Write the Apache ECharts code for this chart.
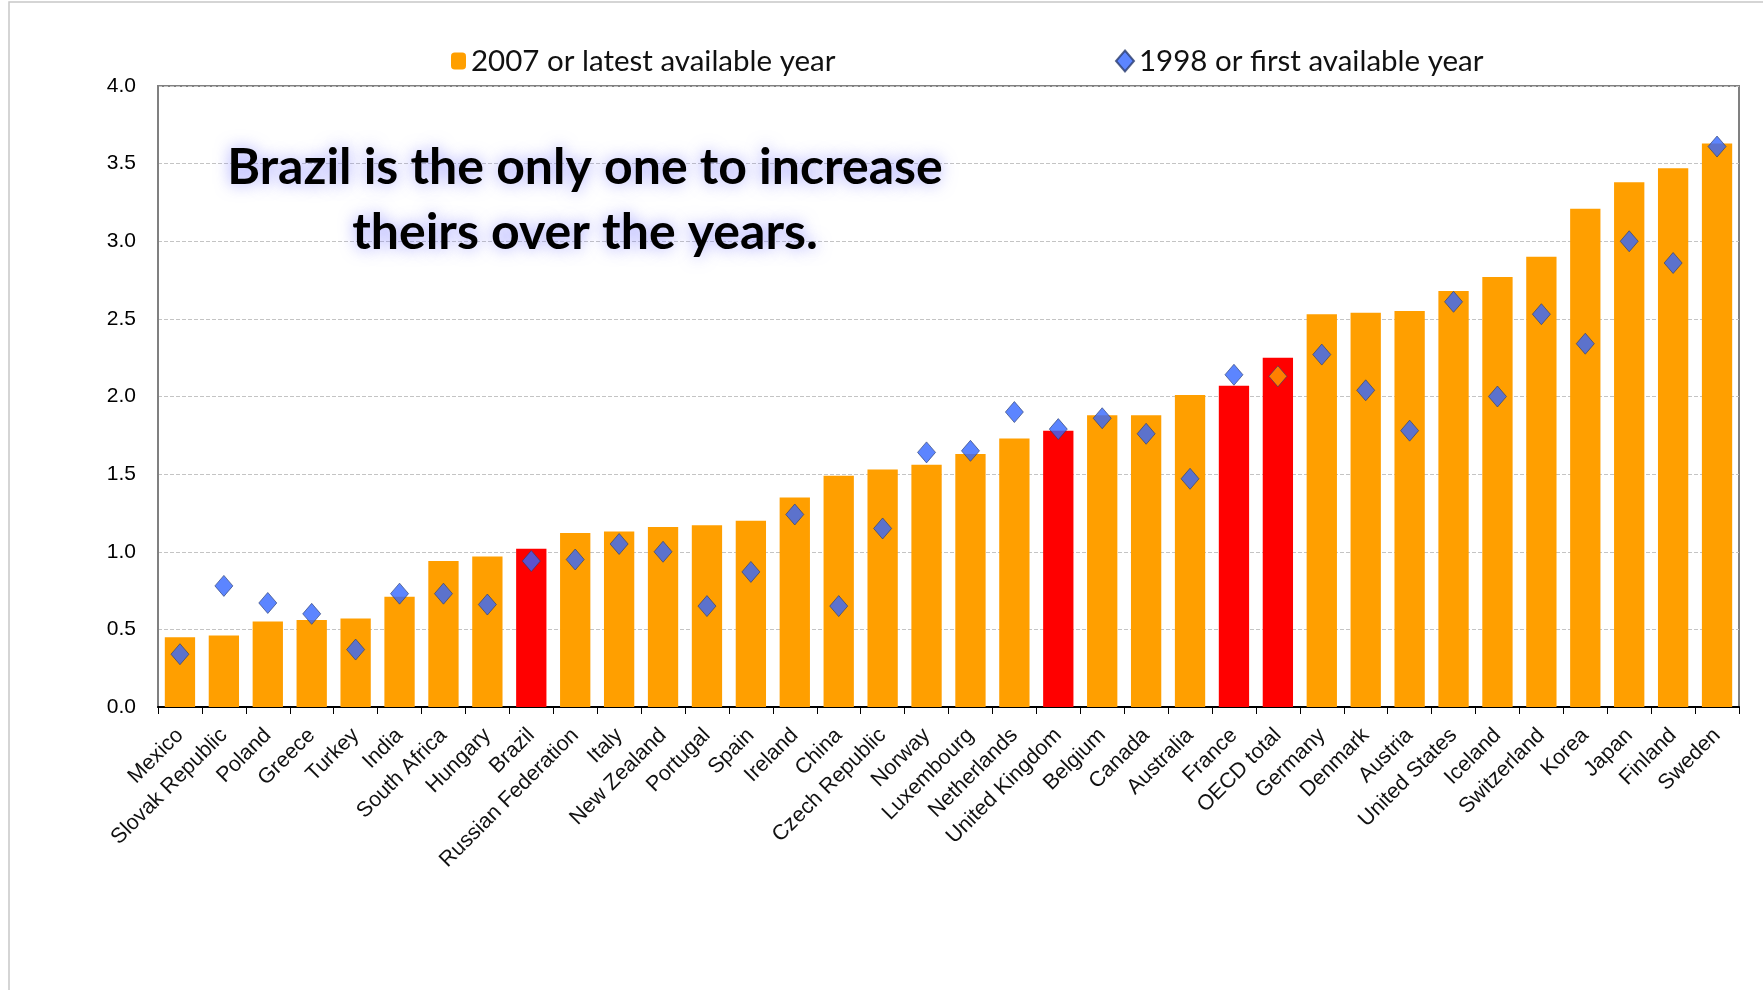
<!DOCTYPE html>
<html>
<head>
<meta charset="utf-8">
<script src="https://cdn.jsdelivr.net/npm/echarts@6/dist/echarts.min.js"></script>
<style>
html,body{margin:0;padding:0;background:#fff;}
#chart{width:1763px;height:990px;}
</style>
</head>
<body>
<div id="chart"></div>
<script>
var categories = ['Mexico','Slovak Republic','Poland','Greece','Turkey','India','South Africa','Hungary','Brazil','Russian Federation','Italy','New Zealand','Portugal','Spain','Ireland','China','Czech Republic','Norway','Luxembourg','Netherlands','United Kingdom','Belgium','Canada','Australia','France','OECD total','Germany','Denmark','Austria','United States','Iceland','Switzerland','Korea','Japan','Finland','Sweden'];
var latestValues = [0.45,0.46,0.55,0.56,0.57,0.71,0.94,0.97,1.02,1.12,1.13,1.16,1.17,1.20,1.35,1.49,1.53,1.56,1.63,1.73,1.78,1.88,1.88,2.01,2.07,2.25,2.53,2.54,2.55,2.68,2.77,2.90,3.21,3.38,3.47,3.63];
var firstValues = [0.34,0.78,0.67,0.60,0.37,0.73,0.73,0.66,0.94,0.95,1.05,1.00,0.65,0.87,1.24,0.65,1.15,1.64,1.65,1.90,1.79,1.86,1.76,1.47,2.14,2.13,2.27,2.04,1.78,2.61,2.00,2.53,2.34,3.00,2.86,3.61];
var highlighted = ['Brazil','United Kingdom','France','OECD total'];
var orangeMarker = ['OECD total'];
var seriesNames = ['2007 or latest available year','1998 or first available year'];
var annotation = 'Brazil is the only one to increase\ntheirs over the years.';

var ORANGE = '#FF9F00', RED = '#FF0000', BLUE = '#3366FF';

var barData = latestValues.map(function(v,i){
  return highlighted.indexOf(categories[i]) >= 0 ? {value:v, itemStyle:{color:RED}} : v;
});
var scatterData = firstValues.map(function(v,i){
  return orangeMarker.indexOf(categories[i]) >= 0 ? {value:v, itemStyle:{color:ORANGE}} : v;
});

var chart = echarts.init(document.getElementById('chart'), null, {renderer:'canvas'});
chart.setOption({
  animation:false,
  backgroundColor:'#fff',
  title:{
    text: annotation,
    left: 580, top: 130, textAlign:'center',
    textStyle:{fontFamily:'Lato', fontWeight:'bold', fontSize:50, lineHeight:65, color:'#000',
      textShadowColor:'rgba(130,130,255,0.75)', textShadowBlur:16}
  },
  legend:[
    {data:[seriesNames[0]], left:446, top:41, itemWidth:15, itemHeight:17, itemGap:8,
     textStyle:{fontFamily:'Lato', fontSize:29.5, color:'#111'}},
    {data:[seriesNames[1]], left:1110, top:41, itemWidth:18, itemHeight:21, itemGap:8,
     textStyle:{fontFamily:'Lato', fontSize:29.5, color:'#111'}}
  ],
  grid:{left:158, right:24, top:86, bottom:283, show:true, borderColor:'#808080', borderWidth:2},
  xAxis:{
    type:'category', data:categories,
    axisLine:{lineStyle:{color:'#000', width:2}},
    axisTick:{show:true, alignWithLabel:false, length:7, lineStyle:{color:'#000', width:1}},
    axisLabel:{interval:0, rotate:45, fontFamily:'Liberation Sans', fontSize:21.5, color:'#111', margin:25}
  },
  yAxis:{
    type:'value', min:0, max:4, interval:0.5,
    axisLine:{show:true, lineStyle:{color:'#808080', width:2}},
    axisTick:{show:false},
    axisLabel:{fontFamily:'Liberation Sans', fontSize:21, color:'#000', margin:22,
      formatter:function(v){return v.toFixed(1);}},
    splitLine:{lineStyle:{color:'#c4c4c4', type:[4,2], width:1}}
  },
  series:[
    {name:seriesNames[0], type:'bar', data:barData, barWidth:'69%',
     itemStyle:{color:ORANGE}, z:2},
    {name:seriesNames[1], type:'scatter', data:scatterData, symbol:'diamond', symbolSize:[18,21],
     itemStyle:{color:BLUE, borderColor:'#2c3d6e', borderWidth:0.8}, z:3}
  ],
  graphic:[
    {type:'rect', shape:{x:9, y:2, width:1800, height:1000}, style:{fill:'none', stroke:'#c8c8c8', lineWidth:1.5}, silent:true}
  ]
});
</script>
</body>
</html>
